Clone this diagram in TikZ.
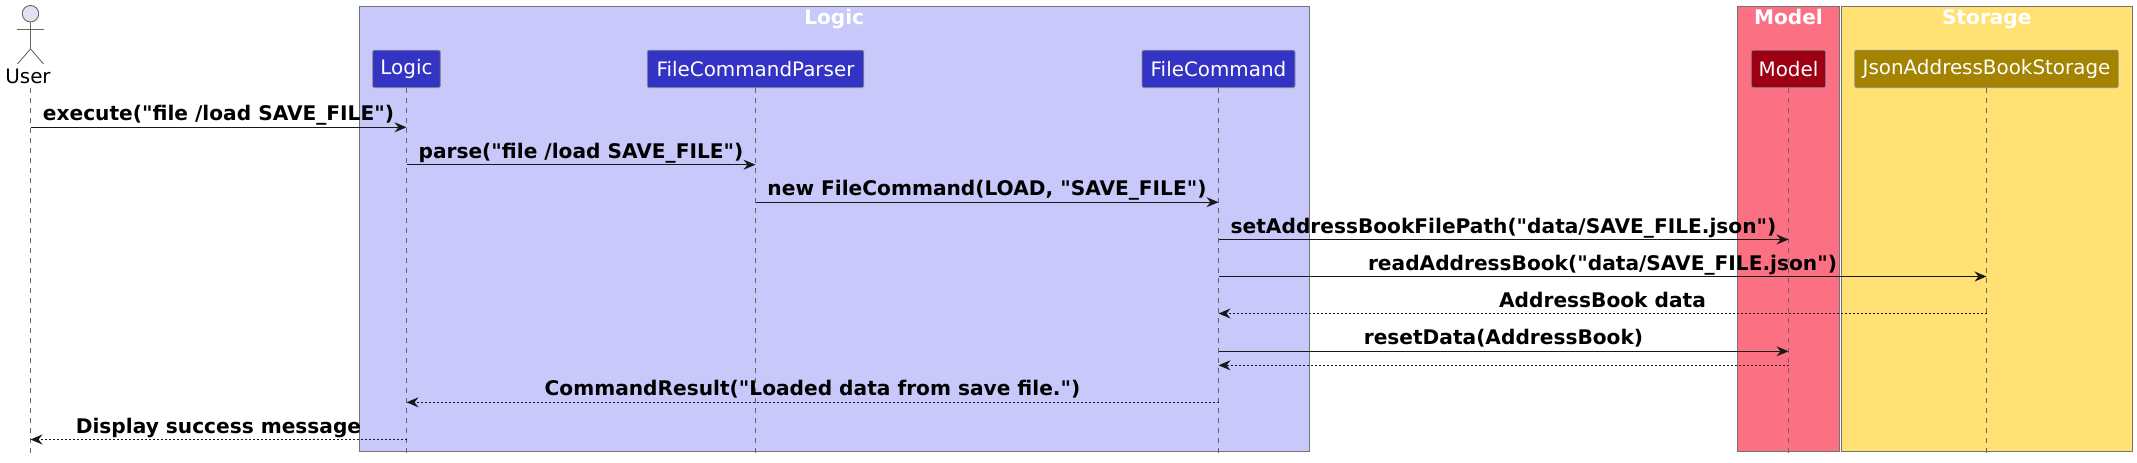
\documentclass[tikz,border=0pt]{standalone}
\usepackage{fontspec}
\newfontfamily\umlfont{DejaVu Sans}
\usetikzlibrary{arrows.meta}
\definecolor{logicDark}{HTML}{3333C4}
\definecolor{logicLight}{HTML}{C8C8FA}
\definecolor{modelDark}{HTML}{9D0012}
\definecolor{modelLight}{HTML}{FC7084}
\definecolor{storageDark}{HTML}{A38300}
\definecolor{storageLight}{HTML}{FFE174}
\definecolor{actorFill}{HTML}{E2E2F0}
\definecolor{inkLine}{HTML}{181818}
\begin{document}
\begin{tikzpicture}[x=1pt,y=-1pt,
  >={Stealth[length=12pt,width=10pt,inset=4pt]},
  group/.style={draw=black!55,line width=0.9pt,minimum height=445pt,inner sep=0pt},
  grouptitle/.style={text=white,font=\umlfont\fontsize{20.1}{20.1}\selectfont\bfseries,anchor=base},
  part/.style={draw=black!45,line width=0.8pt,rounded corners=2pt,text=white,minimum height=37.5pt,inner sep=0pt,font=\umlfont\fontsize{19.9}{19.9}\selectfont},
  lifeline/.style={draw=black!60,line width=0.9pt,dash pattern=on 5pt off 5pt},
  call/.style={->,draw=inkLine,line width=1pt},
  reply/.style={->,draw=inkLine,line width=1pt,dash pattern=on 2pt off 2pt},
  msg/.style={anchor=base,yshift=6.5pt,inner sep=0pt,text=black,font=\umlfont\fontsize{20.15}{20.15}\selectfont\bfseries},
  stick/.style={draw=black!60,line width=0.9pt}]
\useasboundingbox (0,0) rectangle (2137,463);
% boxes
\node[group,fill=logicLight,minimum width=950pt] (logicBox) at (834.2,228.6) {};
\node[group,fill=modelLight,minimum width=102.4pt] (modelBox) at (1788.5,228.6) {};
\node[group,fill=storageLight,minimum width=291pt] (storageBox) at (1986.8,228.6) {};
\node[grouptitle] (logicTitle) at (834.2,24) {Logic};
\node[grouptitle] (modelTitle) at (1788.5,24) {Model};
\node[grouptitle] (storageTitle) at (1986.8,24) {Storage};
% participants
\node[part,fill=logicDark,minimum width=67.7pt] (logic) at (406.5,68.9) {Logic};
\node[part,fill=logicDark,minimum width=216.5pt] (parser) at (755.5,68.9) {FileCommandParser};
\node[part,fill=logicDark,minimum width=153pt] (command) at (1218.5,68.9) {FileCommand};
\node[part,fill=modelDark,minimum width=74.4pt] (model) at (1788.5,68.9) {Model};
\node[part,fill=storageDark,minimum width=263.4pt] (storage) at (1986.5,68.9) {JsonAddressBookStorage};
% actor
\node[circle,draw=black!60,line width=0.9pt,fill=actorFill,minimum size=16.5pt,inner sep=0pt] (userHead) at (30.5,13.7) {};
\draw[stick] (userHead.south) -- ++(0,26.5) coordinate (userHip) -- ++(-13,15);
\draw[stick] (userHip) -- ++(13,15);
\draw[stick] (17.3,29.3) -- (43.7,29.3);
\node[font=\umlfont\fontsize{19.9}{19.9}\selectfont,inner sep=0pt] (userName) at (28,76.5) {User};
\coordinate (user) at (30.5,88);
\path
(0,453.5) coordinate (bottom)
(0,127.3) coordinate (rowA)
(0,164.7) coordinate (rowB)
(0,202.2) coordinate (rowC)
(0,239.5) coordinate (rowD)
(0,276.5) coordinate (rowE)
(0,313.5) coordinate (rowF)
(0,351.3) coordinate (rowG)
(0,365.3) coordinate (rowH)
(0,402.3) coordinate (rowI)
(0,439.5) coordinate (rowJ)
;
% lifelines
\draw[lifeline] (user) -- (user |- bottom);
\draw[lifeline] (logic.south) -- (logic.south |- bottom);
\draw[lifeline] (parser.south) -- (parser.south |- bottom);
\draw[lifeline] (command.south) -- (command.south |- bottom);
\draw[lifeline] (model.south) -- (model.south |- bottom);
\draw[lifeline] (storage.south) -- (storage.south |- bottom);
% messages
\draw[call] (user |- rowA) -- (logic |- rowA) node[msg,midway] (msgExecute) {execute("file /load SAVE\_FILE")};
\draw[call] (logic |- rowB) -- (parser |- rowB) node[msg,midway] (msgParse) {parse("file /load SAVE\_FILE")};
\draw[call] (parser |- rowC) -- (command |- rowC) node[msg,midway] (msgNew) {new FileCommand(LOAD, "SAVE\_FILE")};
\draw[call] (command |- rowD) -- (model |- rowD) node[msg,midway] (msgPath) {setAddressBookFilePath("data/SAVE\_FILE.json")};
\draw[call] (command |- rowE) -- (storage |- rowE) node[msg,midway] (msgRead) {readAddressBook("data/SAVE\_FILE.json")};
\draw[reply] (storage |- rowF) -- (command |- rowF) node[msg,midway] (msgData) {AddressBook data};
\draw[call] (command |- rowG) -- (model |- rowG) node[msg,midway] (msgReset) {resetData(AddressBook)};
\draw[reply] (model |- rowH) -- (command |- rowH);
\draw[reply] (command |- rowI) -- (logic |- rowI) node[msg,midway] (msgResult) {CommandResult("Loaded data from save file.")};
\draw[reply] (logic |- rowJ) -- (user |- rowJ) node[msg,midway] (msgDone) {Display success message};
\end{tikzpicture}
\end{document}
